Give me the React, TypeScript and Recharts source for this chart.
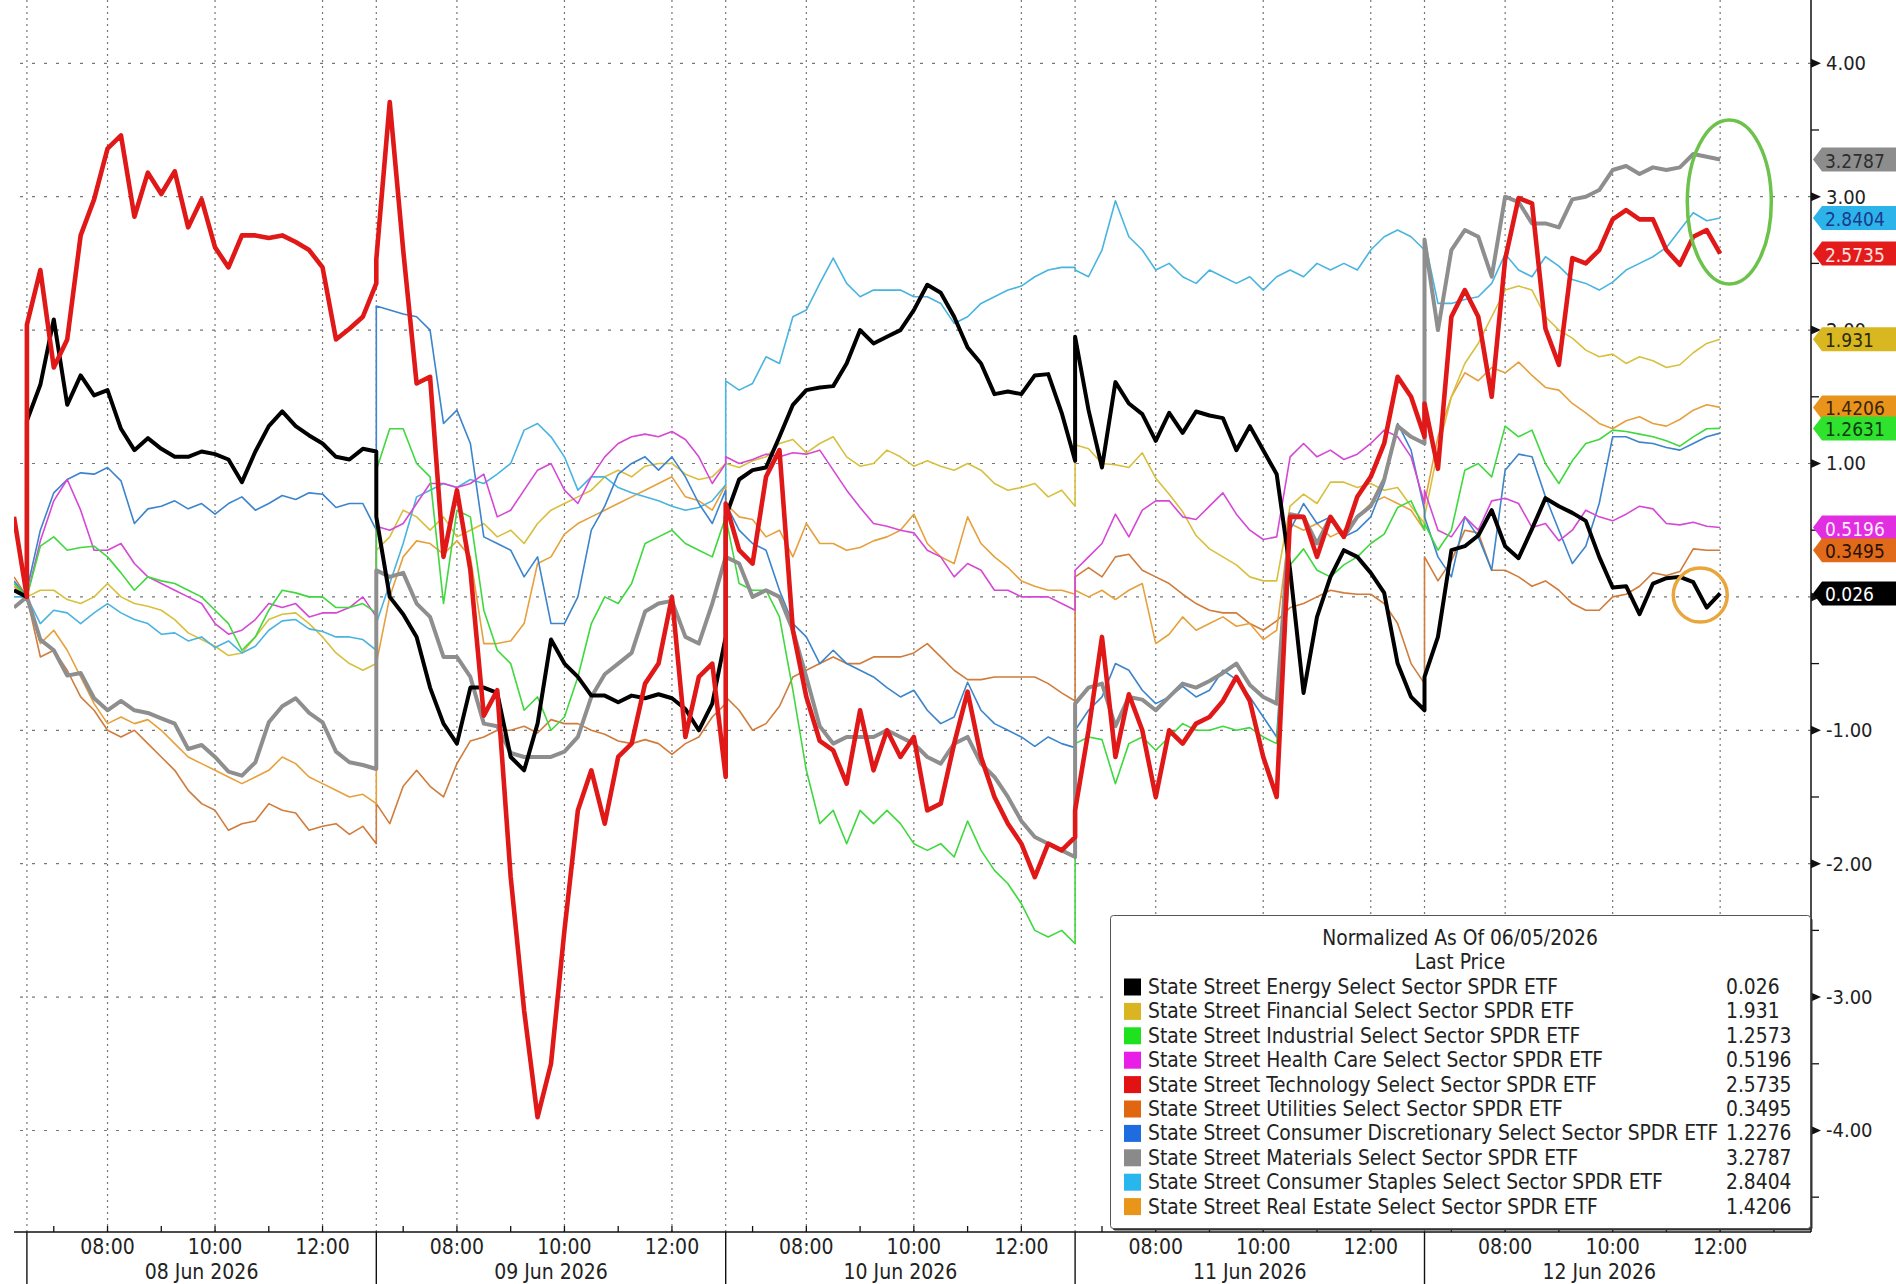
import React from 'react';
import { LineChart, Line, XAxis, YAxis, ReferenceLine, ReferenceDot } from 'recharts';

// ---------- axis / labels ----------
const DAY_LABELS = ['08 Jun 2026', '09 Jun 2026', '10 Jun 2026', '11 Jun 2026', '12 Jun 2026'];
const HOUR_LABELS: Record<number, string> = { 8: '08:00', 10: '10:00', 12: '12:00' };
const SESSION_HOURS = 6.5; // 06:30 - 13:00
const STEP_HOURS = 0.25;   // 15 minute samples
const X_MIN = -0.24;
const X_MAX = 33.19;
const Y_MIN = -4.761;
const Y_MAX = 4.4745;
const Y_MAJOR = [-4, -3, -2, -1, 0, 1, 2, 3, 4];
const Y_MINOR = [-4.5, -3.5, -2.5, -1.5, -0.5, 0.5, 1.5, 2.5, 3.5];
const LEGEND_TITLE = 'Normalized As Of 06/05/2026';
const LEGEND_SUB = 'Last Price';

// ---------- values (normalized % change), one sub-array per session, 15-min samples ----------
const PRE_T = -0.24; // last minutes of 06/05 session
const PRE_ENERGY = 0.05, PRE_FIN = 0.05, PRE_IND = 0.1, PRE_HEALTH = 0.05, PRE_TECH = 0.6;
const PRE_UTIL = 0.15, PRE_DISC = 0.12, PRE_MAT = -0.08, PRE_STAP = 0.0, PRE_RE = 0.08;

const ENERGY = [
  [1.32, 1.59, 2.08, 1.44, 1.66, 1.51, 1.55, 1.26, 1.1, 1.19, 1.11, 1.05, 1.05, 1.09, 1.07, 1.03, 0.86, 1.09, 1.28, 1.39, 1.28, 1.21, 1.15, 1.05, 1.03, 1.11, 1.09],
  [0.6, 0.0, -0.13, -0.3, -0.68, -0.95, -1.1, -0.68, -0.68, -0.72, -1.2, -1.3, -0.95, -0.32, -0.5, -0.6, -0.74, -0.74, -0.79, -0.74, -0.76, -0.73, -0.76, -0.84, -1.0, -0.8, -0.3],
  [0.6, 0.88, 0.95, 0.97, 1.2, 1.44, 1.55, 1.57, 1.58, 1.75, 2.0, 1.9, 1.95, 2.0, 2.15, 2.34, 2.28, 2.1, 1.87, 1.75, 1.52, 1.54, 1.52, 1.66, 1.67, 1.38, 1.02],
  [1.95, 1.4, 0.97, 1.61, 1.45, 1.37, 1.17, 1.38, 1.23, 1.39, 1.36, 1.34, 1.1, 1.28, 1.1, 0.92, 0.2, -0.72, -0.15, 0.15, 0.35, 0.3, 0.18, 0.03, -0.5, -0.75, -0.85],
  [-0.6, -0.3, 0.35, 0.38, 0.46, 0.65, 0.38, 0.29, 0.51, 0.74, 0.68, 0.63, 0.57, 0.3, 0.07, 0.08, -0.13, 0.1, 0.14, 0.15, 0.11, -0.08, 0.026],
];
const FINANCIAL = [
  [0.0, 0.05, 0.05, -0.02, -0.05, 0.0, 0.1, 0.0, -0.05, -0.07, -0.1, -0.17, -0.27, -0.32, -0.37, -0.44, -0.42, -0.3, -0.17, -0.13, -0.12, -0.2, -0.3, -0.42, -0.5, -0.55, -0.5],
  [0.35, 0.45, 0.65, 0.6, 0.5, 0.6, 0.45, 0.5, 0.55, 0.45, 0.5, 0.4, 0.55, 0.65, 0.7, 0.75, 0.8, 0.9, 0.95, 0.9, 0.98, 1.0, 1.0, 0.92, 0.88, 0.9, 1.0],
  [1.0, 0.97, 1.02, 1.05, 1.15, 1.18, 1.08, 1.15, 1.2, 1.05, 0.98, 1.0, 1.1, 1.05, 0.98, 1.02, 0.98, 0.95, 1.0, 0.95, 0.85, 0.8, 0.82, 0.85, 0.75, 0.8, 0.68],
  [1.14, 1.11, 1.0, 0.99, 0.97, 1.08, 0.89, 0.77, 0.64, 0.46, 0.36, 0.3, 0.24, 0.15, 0.12, 0.12, 0.68, 0.77, 0.7, 0.86, 0.86, 0.82, 0.85, 0.8, 0.82, 0.68, 0.55],
  [0.6, 1.1, 1.5, 1.75, 1.9, 2.1, 2.3, 2.33, 2.3, 2.1, 2.0, 1.94, 1.85, 1.8, 1.82, 1.75, 1.8, 1.77, 1.72, 1.74, 1.83, 1.9, 1.931],
];
const INDUSTRIAL = [
  [0.0, 0.38, 0.45, 0.35, 0.37, 0.38, 0.3, 0.18, 0.05, 0.15, 0.12, 0.1, 0.05, 0.0, -0.1, -0.2, -0.4, -0.3, -0.1, 0.05, 0.03, 0.0, 0.0, -0.08, -0.08, -0.05, -0.12],
  [0.95, 1.26, 1.26, 1.0, 0.9, -0.05, 0.65, 0.6, -0.1, -0.4, -0.5, -0.85, -0.75, -1.0, -0.9, -0.6, -0.2, 0.0, -0.05, 0.1, 0.4, 0.45, 0.5, 0.4, 0.35, 0.3, 0.6],
  [0.6, 0.1, 0.05, 0.05, -0.15, -0.7, -1.3, -1.7, -1.6, -1.85, -1.6, -1.7, -1.6, -1.7, -1.85, -1.9, -1.85, -1.95, -1.68, -1.9, -2.05, -2.15, -2.3, -2.5, -2.55, -2.5, -2.6],
  [-1.1, -1.05, -1.07, -1.4, -1.1, -1.05, -1.15, -1.05, -0.95, -1.0, -1.0, -0.97, -1.0, -0.98, -1.05, -1.1, 0.24, 0.36, 0.2, 0.15, 0.24, 0.3, 0.4, 0.47, 0.67, 0.72, 0.5],
  [0.55, 0.35, 0.5, 0.95, 1.0, 0.9, 1.28, 1.2, 1.25, 1.0, 0.85, 1.02, 1.15, 1.18, 1.25, 1.24, 1.22, 1.2, 1.17, 1.13, 1.2, 1.26, 1.2631],
];
const HEALTH = [
  [0.0, 0.42, 0.72, 0.88, 0.65, 0.35, 0.35, 0.4, 0.25, 0.15, 0.1, 0.05, 0.0, -0.05, -0.2, -0.28, -0.25, -0.17, -0.05, -0.08, -0.05, -0.15, -0.12, -0.12, -0.08, 0.0, -0.15],
  [0.53, 0.5, 0.55, 0.7, 0.85, 0.85, 0.82, 0.85, 0.92, 0.6, 0.65, 0.8, 0.95, 1.0, 0.8, 0.7, 0.9, 1.05, 1.15, 1.2, 1.22, 1.2, 1.24, 1.18, 1.05, 0.85, 1.0],
  [1.05, 1.0, 1.03, 1.07, 1.05, 1.08, 1.07, 1.1, 0.95, 0.8, 0.67, 0.55, 0.53, 0.5, 0.48, 0.35, 0.3, 0.15, 0.25, 0.2, 0.05, 0.05, 0.0, 0.0, 0.0, -0.05, -0.1],
  [0.2, 0.3, 0.4, 0.62, 0.45, 0.65, 0.72, 0.72, 0.6, 0.58, 0.68, 0.78, 0.62, 0.5, 0.43, 0.45, 1.05, 1.15, 1.05, 1.1, 1.03, 1.07, 1.15, 1.25, 1.2, 1.05, 0.7],
  [0.8, 0.5, 0.45, 0.6, 0.5, 0.72, 0.74, 0.7, 0.52, 0.55, 0.42, 0.5, 0.65, 0.6, 0.57, 0.62, 0.68, 0.66, 0.55, 0.54, 0.56, 0.53, 0.5196],
];
const TECH = [
  [2.04, 2.45, 1.72, 1.93, 2.71, 2.98, 3.36, 3.46, 2.85, 3.18, 3.02, 3.19, 2.77, 2.98, 2.62, 2.47, 2.71, 2.71, 2.69, 2.71, 2.66, 2.6, 2.47, 1.93, 2.01, 2.1, 2.35],
  [2.53, 3.71, 2.6, 1.6, 1.65, 0.3, 0.8, 0.2, -0.89, -0.7, -2.1, -3.1, -3.9, -3.5, -2.5, -1.6, -1.3, -1.7, -1.2, -1.1, -0.65, -0.5, 0.0, -1.05, -0.6, -0.5, -1.35],
  [0.7, 0.35, 0.25, 0.9, 1.1, -0.25, -0.75, -1.08, -1.15, -1.4, -0.85, -1.3, -1.0, -1.2, -1.05, -1.6, -1.55, -1.1, -0.71, -1.2, -1.5, -1.7, -1.85, -2.1, -1.85, -1.9, -1.8],
  [-1.6, -1.0, -0.3, -1.2, -0.73, -1.0, -1.5, -1.0, -1.1, -0.95, -0.9, -0.78, -0.6, -0.78, -1.2, -1.5, 0.6, 0.6, 0.3, 0.6, 0.45, 0.75, 0.9, 1.15, 1.65, 1.5, 1.2],
  [1.45, 0.96, 2.1, 2.3, 2.1, 1.5, 2.53, 2.99, 2.95, 2.01, 1.74, 2.54, 2.5, 2.6, 2.83, 2.9, 2.83, 2.83, 2.6, 2.49, 2.7, 2.75, 2.5735],
];
const UTILITIES = [
  [0.0, -0.45, -0.4, -0.55, -0.75, -0.85, -1.0, -1.05, -1.0, -1.1, -1.2, -1.3, -1.45, -1.55, -1.6, -1.75, -1.7, -1.68, -1.55, -1.6, -1.62, -1.75, -1.72, -1.7, -1.78, -1.72, -1.85],
  [-1.55, -1.7, -1.42, -1.3, -1.42, -1.5, -1.25, -1.08, -1.05, -1.0, -1.0, -0.97, -1.02, -0.92, -0.95, -0.95, -1.0, -1.03, -1.08, -1.1, -1.07, -1.1, -1.18, -1.1, -1.05, -0.9, -0.8],
  [-0.75, -0.85, -1.0, -0.95, -0.82, -0.6, -0.55, -0.5, -0.45, -0.5, -0.5, -0.45, -0.45, -0.45, -0.42, -0.35, -0.45, -0.55, -0.62, -0.62, -0.6, -0.6, -0.6, -0.6, -0.65, -0.72, -0.78],
  [0.15, 0.22, 0.15, 0.3, 0.32, 0.2, 0.15, 0.1, 0.02, -0.05, -0.1, -0.12, -0.12, -0.2, -0.25, -0.18, -0.08, -0.05, 0.0, 0.05, 0.03, 0.02, 0.02, -0.05, -0.2, -0.5, -0.65],
  [0.3, 0.12, 0.27, 0.5, 0.48, 0.2, 0.2, 0.15, 0.08, 0.12, 0.05, -0.05, -0.1, -0.1, 0.0, 0.02, 0.08, 0.18, 0.16, 0.19, 0.36, 0.35, 0.3495],
];
const DISCRETIONARY = [
  [0.05, 0.5, 0.78, 0.88, 0.93, 0.92, 0.97, 0.87, 0.55, 0.66, 0.68, 0.72, 0.66, 0.7, 0.62, 0.7, 0.75, 0.65, 0.7, 0.76, 0.73, 0.78, 0.77, 0.67, 0.7, 0.7, 0.5],
  [2.18, 2.15, 2.12, 2.1, 2.0, 1.3, 1.4, 1.15, 0.45, 0.4, 0.35, 0.15, 0.3, -0.2, -0.2, 0.0, 0.5, 0.68, 0.92, 1.0, 1.05, 0.95, 1.05, 0.9, 0.7, 0.55, 0.8],
  [0.7, 0.5, 0.4, 0.35, 0.05, -0.2, -0.3, -0.5, -0.4, -0.5, -0.55, -0.6, -0.68, -0.75, -0.7, -0.85, -0.95, -0.9, -0.64, -0.85, -0.95, -1.0, -1.05, -1.12, -1.05, -1.1, -1.13],
  [-1.0, -0.85, -0.75, -0.5, -0.55, -0.7, -0.8, -0.75, -0.67, -0.75, -0.7, -0.55, -0.62, -0.75, -0.9, -1.05, 0.5, 0.7, 0.55, 0.6, 0.45, 0.5, 0.6, 0.85, 1.3, 1.1, 0.65],
  [0.6, 0.3, 0.15, 0.6, 0.45, 0.2, 0.95, 1.07, 1.05, 0.75, 0.5, 0.25, 0.38, 0.7, 1.2, 1.2, 1.16, 1.15, 1.12, 1.1, 1.15, 1.2, 1.2276],
];
const MATERIALS = [
  [0.0, -0.32, -0.4, -0.59, -0.57, -0.76, -0.85, -0.78, -0.85, -0.87, -0.91, -0.95, -1.14, -1.11, -1.2, -1.31, -1.34, -1.24, -0.94, -0.82, -0.76, -0.87, -0.94, -1.16, -1.24, -1.26, -1.29],
  [0.2, 0.15, 0.18, -0.05, -0.15, -0.45, -0.45, -0.6, -0.95, -0.97, -1.17, -1.2, -1.2, -1.2, -1.16, -1.05, -0.75, -0.58, -0.5, -0.42, -0.11, -0.05, -0.03, -0.3, -0.35, -0.05, 0.3],
  [0.3, 0.25, 0.0, 0.05, 0.0, -0.25, -0.6, -0.97, -1.1, -1.05, -1.05, -1.05, -1.0, -1.05, -1.1, -1.2, -1.25, -1.1, -1.05, -1.25, -1.35, -1.5, -1.68, -1.8, -1.85, -1.9, -1.95],
  [-0.8, -0.68, -0.65, -0.97, -0.75, -0.77, -0.85, -0.75, -0.65, -0.68, -0.63, -0.57, -0.5, -0.66, -0.75, -0.8, 0.62, 0.6, 0.4, 0.6, 0.45, 0.6, 0.68, 0.88, 1.28, 1.2, 1.15],
  [2.68, 2.0, 2.6, 2.75, 2.7, 2.4, 3.0, 2.96, 2.8, 2.8, 2.77, 2.98, 3.0, 3.05, 3.2, 3.23, 3.17, 3.22, 3.2, 3.22, 3.32, 3.3, 3.2787],
];
const STAPLES = [
  [0.0, -0.2, -0.1, -0.12, -0.2, -0.12, -0.05, -0.12, -0.17, -0.2, -0.28, -0.27, -0.33, -0.3, -0.38, -0.33, -0.42, -0.37, -0.25, -0.18, -0.17, -0.24, -0.26, -0.3, -0.3, -0.32, -0.4],
  [-0.2, 0.1, 0.4, 0.75, 0.8, 0.85, 0.82, 0.88, 0.85, 0.92, 1.0, 1.25, 1.3, 1.2, 1.05, 0.8, 0.9, 0.9, 0.82, 0.78, 0.75, 0.72, 0.68, 0.65, 0.67, 0.72, 0.84],
  [1.62, 1.55, 1.6, 1.8, 1.75, 2.1, 2.15, 2.35, 2.54, 2.35, 2.25, 2.3, 2.3, 2.3, 2.25, 2.25, 2.2, 2.05, 2.1, 2.2, 2.25, 2.3, 2.33, 2.4, 2.45, 2.47, 2.47],
  [2.45, 2.4, 2.6, 2.97, 2.7, 2.6, 2.45, 2.5, 2.4, 2.35, 2.45, 2.4, 2.35, 2.4, 2.3, 2.4, 2.45, 2.4, 2.5, 2.45, 2.5, 2.45, 2.6, 2.7, 2.75, 2.7, 2.6],
  [2.68, 2.2, 2.2, 2.23, 2.25, 2.35, 2.57, 2.45, 2.4, 2.55, 2.48, 2.38, 2.35, 2.3, 2.36, 2.45, 2.5, 2.55, 2.62, 2.75, 2.88, 2.82, 2.8404],
];
const REAL_ESTATE = [
  [0.0, -0.35, -0.25, -0.4, -0.6, -0.8, -0.95, -0.9, -0.95, -0.92, -1.0, -1.1, -1.2, -1.25, -1.3, -1.35, -1.4, -1.35, -1.3, -1.2, -1.25, -1.35, -1.4, -1.45, -1.5, -1.48, -1.55],
  [-0.5, 0.0, 0.3, 0.42, 0.4, 0.32, 0.42, 0.3, -0.35, -0.35, -0.33, -0.2, 0.25, 0.3, 0.47, 0.55, 0.6, 0.65, 0.7, 0.75, 0.8, 0.85, 0.9, 0.75, 0.72, 0.65, 0.84],
  [0.7, 0.6, 0.58, 0.45, 0.5, 0.3, 0.55, 0.4, 0.4, 0.35, 0.37, 0.42, 0.45, 0.5, 0.62, 0.4, 0.3, 0.25, 0.6, 0.4, 0.3, 0.22, 0.12, 0.08, 0.05, 0.05, 0.02],
  [0.05, 0.0, 0.05, -0.02, 0.05, 0.1, -0.35, -0.28, -0.15, -0.25, -0.2, -0.15, -0.22, -0.2, -0.32, -0.25, 0.55, 0.5, 0.55, 0.45, 0.5, 0.6, 0.7, 0.75, 0.7, 0.65, 0.5],
  [0.7, 1.2, 1.5, 1.68, 1.62, 1.72, 1.68, 1.76, 1.66, 1.57, 1.55, 1.45, 1.38, 1.3, 1.26, 1.32, 1.35, 1.3, 1.28, 1.33, 1.4, 1.44, 1.4206],
];

// ---------- series meta ----------
const SERIES = [
  { key: 'energy', name: 'State Street Energy Select Sector SPDR ETF', last: '0.026', line: '#000000', swatch: '#000000', width: 4, data: ENERGY, pre: PRE_ENERGY },
  { key: 'financial', name: 'State Street Financial Select Sector SPDR ETF', last: '1.931', line: '#d8c03e', swatch: '#d9b522', width: 1.6, data: FINANCIAL, pre: PRE_FIN },
  { key: 'industrial', name: 'State Street Industrial Select Sector SPDR ETF', last: '1.2573', line: '#3fd83f', swatch: '#1ee21e', width: 1.6, data: INDUSTRIAL, pre: PRE_IND },
  { key: 'health', name: 'State Street Health Care Select Sector SPDR ETF', last: '0.5196', line: '#d548d5', swatch: '#e81ee8', width: 1.6, data: HEALTH, pre: PRE_HEALTH },
  { key: 'tech', name: 'State Street Technology Select Sector SPDR ETF', last: '2.5735', line: '#e01818', swatch: '#e31212', width: 4.6, data: TECH, pre: PRE_TECH },
  { key: 'utilities', name: 'State Street Utilities Select Sector SPDR ETF', last: '0.3495', line: '#cf7c3c', swatch: '#e0660f', width: 1.6, data: UTILITIES, pre: PRE_UTIL },
  { key: 'disc', name: 'State Street Consumer Discretionary Select Sector SPDR ETF', last: '1.2276', line: '#3c84cc', swatch: '#1f6be0', width: 1.6, data: DISCRETIONARY, pre: PRE_DISC },
  { key: 'materials', name: 'State Street Materials Select Sector SPDR ETF', last: '3.2787', line: '#8e8e8e', swatch: '#8a8a8a', width: 4, data: MATERIALS, pre: PRE_MAT },
  { key: 'staples', name: 'State Street Consumer Staples Select Sector SPDR ETF', last: '2.8404', line: '#4ab4e0', swatch: '#27b6ee', width: 1.6, data: STAPLES, pre: PRE_STAP },
  { key: 'realestate', name: 'State Street Real Estate Select Sector SPDR ETF', last: '1.4206', line: '#e6a03c', swatch: '#e8951a', width: 1.6, data: REAL_ESTATE, pre: PRE_RE },
];
const DRAW_ORDER = ['utilities', 'realestate', 'financial', 'staples', 'disc', 'health', 'industrial', 'materials', 'energy', 'tech'];

// right-edge value tags
const TAG_VALUES = [3.2787, 2.8404, 2.5735, 1.931, 1.4206, 1.2631, 0.5196, 0.3495, 0.026];
const TAG_TEXT = ['3.2787', '2.8404', '2.5735', '1.931', '1.4206', '1.2631', '0.5196', '0.3495', '0.026'];
const TAG_FILL = ['#8d8d8d', '#2cb4ea', '#e31b1b', '#d8b720', '#e8931c', '#2ee22e', '#e02ee0', '#e06a1a', '#000000'];
const TAG_INK = ['#2e2e2e', '#1b3a8a', '#ffe2e2', '#2a2a10', '#3a2508', '#0e3a0e', '#ffeaff', '#2a1205', '#ffffff'];

// annotations
const GREEN_RING = { t: 31.67, v: 2.96 };
const ORANGE_RING = { t: 31.13, v: 0.014 };

// ---------- build the table ----------
const rows: any[] = [];
{
  const pre: any = { t: PRE_T };
  const close: any = { t: 0 };
  SERIES.forEach((s) => { pre[s.key] = s.pre; close[s.key] = 0; });
  rows.push(pre, close);
  for (let d = 0; d < DAY_LABELS.length; d++) {
    const n = SERIES[0].data[d].length;
    for (let k = 0; k < n; k++) {
      const r: any = { t: d * SESSION_HOURS + k * STEP_HOURS };
      SERIES.forEach((s) => { r[s.key] = s.data[d][k]; });
      rows.push(r);
    }
  }
}

// x ticks
type TickInfo = { kind: 'day' | 'major' | 'minor' | 'date'; label?: string };
const X_TICKS: number[] = [];
const X_INFO = new Map<string, TickInfo>();
const keyOf = (v: number) => v.toFixed(4);
const GRID_X: number[] = [];
for (let d = 0; d < DAY_LABELS.length; d++) {
  const start = d * SESSION_HOURS;
  X_TICKS.push(start); X_INFO.set(keyOf(start), { kind: 'day' }); GRID_X.push(start);
  for (let h = 7; h <= 12; h++) {
    const t = start + (h - 6.5);
    X_TICKS.push(t);
    if (HOUR_LABELS[h]) { X_INFO.set(keyOf(t), { kind: 'major', label: HOUR_LABELS[h] }); GRID_X.push(t); }
    else X_INFO.set(keyOf(t), { kind: 'minor' });
  }
  const mid = start + SESSION_HOURS / 2;
  X_TICKS.push(mid); X_INFO.set(keyOf(mid), { kind: 'date', label: DAY_LABELS[d] });
}
{
  const endLast = DAY_LABELS.length * SESSION_HOURS;
  X_TICKS.push(endLast); X_INFO.set(keyOf(endLast), { kind: 'minor' });
}

// y ticks: grid ticks first, value tags last so the tags are painted over the labels
const TAG_INDEX = new Map<string, number>();
TAG_VALUES.forEach((v, i) => TAG_INDEX.set(keyOf(v), i));
const Y_TICKS = [...[...Y_MINOR, ...Y_MAJOR].sort((a, b) => a - b), ...TAG_VALUES];

const FONT = "'DejaVu Sans Condensed', 'DejaVu Sans', sans-serif";
const TEXT_STYLE: React.CSSProperties = { fontFamily: FONT, fontStretch: 'condensed' };

const XTick = (props: any) => {
  const { x, y, payload } = props;
  const info = X_INFO.get(keyOf(payload.value));
  if (!info) return null;
  if (info.kind === 'day') return <line x1={x} x2={x} y1={y} y2={y + 60} stroke="#111" strokeWidth={1.4} />;
  if (info.kind === 'minor') return <line x1={x} x2={x} y1={y - 6} y2={y} stroke="#111" strokeWidth={1.3} />;
  if (info.kind === 'major')
    return (
      <g>
        <line x1={x} x2={x} y1={y - 6} y2={y} stroke="#111" strokeWidth={1.3} />
        <text x={x} y={y + 15} textAnchor="middle" dominantBaseline="central" fontSize={21} fill="#222" style={TEXT_STYLE}>{info.label}</text>
      </g>
    );
  return <text x={x} y={y + 40} textAnchor="middle" dominantBaseline="central" fontSize={21} fill="#222" style={TEXT_STYLE}>{info.label}</text>;
};

const YTick = (props: any) => {
  const { x, y, payload } = props;
  const v = payload.value as number;
  const ti = TAG_INDEX.get(keyOf(v));
  if (ti !== undefined) {
    const x0 = x + 2;
    const h = 12;
    return (
      <g>
        <path d={`M${x0},${y} L${x0 + 9},${y - h} L${x0 + 95},${y - h} L${x0 + 95},${y + h} L${x0 + 9},${y + h} Z`} fill={TAG_FILL[ti]} />
        <text x={x0 + 12} y={y + 1} dominantBaseline="central" fontSize={19} fill={TAG_INK[ti]} style={TEXT_STYLE}>{TAG_TEXT[ti]}</text>
      </g>
    );
  }
  if (Number.isInteger(v))
    return (
      <g>
        <path d={`M${x},${y - 4.5} L${x + 10},${y} L${x},${y + 4.5} Z`} fill="#111" />
        <text x={x + 15} y={y} dominantBaseline="central" fontSize={20} fill="#222" style={TEXT_STYLE}>{v.toFixed(2)}</text>
      </g>
    );
  return <line x1={x} x2={x + 8} y1={y} y2={y} stroke="#111" strokeWidth={1.3} />;
};

const Legend = () => {
  const W = 700, H = 313;
  const fs = 20.8;
  return (
    <svg width={W + 4} height={H + 4} style={{ position: 'absolute', left: 1110, top: 915 }}>
      <rect x={2.5} y={2.5} width={W} height={H} rx={3} fill="#333" />
      <rect x={0.5} y={0.5} width={W} height={H} rx={3} fill="#fff" stroke="#555" strokeWidth={1} />
      <text x={W / 2} y={23} textAnchor="middle" dominantBaseline="central" fontSize={fs} fill="#222" style={TEXT_STYLE}>{LEGEND_TITLE}</text>
      <text x={W / 2} y={47} textAnchor="middle" dominantBaseline="central" fontSize={fs} fill="#222" style={TEXT_STYLE}>{LEGEND_SUB}</text>
      {SERIES.map((s, i) => {
        const cy = 72 + i * 24.4;
        return (
          <g key={s.key}>
            <rect x={14} y={cy - 8.5} width={17} height={17} fill={s.swatch} />
            <text x={38} y={cy} dominantBaseline="central" fontSize={fs} fill="#222" style={TEXT_STYLE}>{s.name}</text>
            <text x={616} y={cy} dominantBaseline="central" fontSize={fs} fill="#222" style={TEXT_STYLE}>{s.last}</text>
          </g>
        );
      })}
    </svg>
  );
};

export default function App() {
  return (
    <div style={{ position: 'absolute', left: 0, top: 0, width: 1896, height: 1284, background: '#fff', overflow: 'hidden' }}>
      <LineChart width={1896} height={1284} data={rows} margin={{ top: 0, right: 0, bottom: 0, left: 14 }}>
        <XAxis
          dataKey="t"
          type="number"
          domain={[X_MIN, X_MAX]}
          allowDataOverflow
          ticks={X_TICKS}
          interval={0}
          tick={<XTick />}
          tickLine={false}
          tickSize={0}
          tickMargin={0}
          height={52}
          axisLine={{ stroke: '#111', strokeWidth: 1.5 }}
        />
        <YAxis
          orientation="right"
          type="number"
          domain={[Y_MIN, Y_MAX]}
          allowDataOverflow
          ticks={Y_TICKS}
          interval={0}
          tick={<YTick />}
          tickLine={false}
          tickSize={0}
          tickMargin={0}
          width={85}
          axisLine={{ stroke: '#111', strokeWidth: 1.5 }}
        />
        {Y_MAJOR.map((v) => (
          <ReferenceLine key={'h' + v} y={v} stroke="#777" strokeWidth={1.2} strokeDasharray="3 9" />
        ))}
        {GRID_X.map((t) => (
          <ReferenceLine key={'v' + t} x={t} stroke="#777" strokeWidth={1.2} strokeDasharray="2 4" />
        ))}
        {DRAW_ORDER.map((k) => {
          const s = SERIES.find((q) => q.key === k)!;
          return (
            <Line
              key={k}
              dataKey={k}
              type="linear"
              stroke={s.line}
              strokeWidth={s.width}
              dot={false}
              activeDot={false}
              isAnimationActive={false}
              strokeLinejoin="round"
            />
          );
        })}
        <ReferenceDot x={GREEN_RING.t} y={GREEN_RING.v} ifOverflow="visible"
          shape={(p: any) => <ellipse cx={p.cx} cy={p.cy} rx={42} ry={82} fill="none" stroke="#6cc24a" strokeWidth={3.5} />} />
        <ReferenceDot x={ORANGE_RING.t} y={ORANGE_RING.v} ifOverflow="visible"
          shape={(p: any) => <circle cx={p.cx} cy={p.cy} r={27} fill="none" stroke="#e9a63c" strokeWidth={3.5} />} />
      </LineChart>
      <Legend />
    </div>
  );
}
